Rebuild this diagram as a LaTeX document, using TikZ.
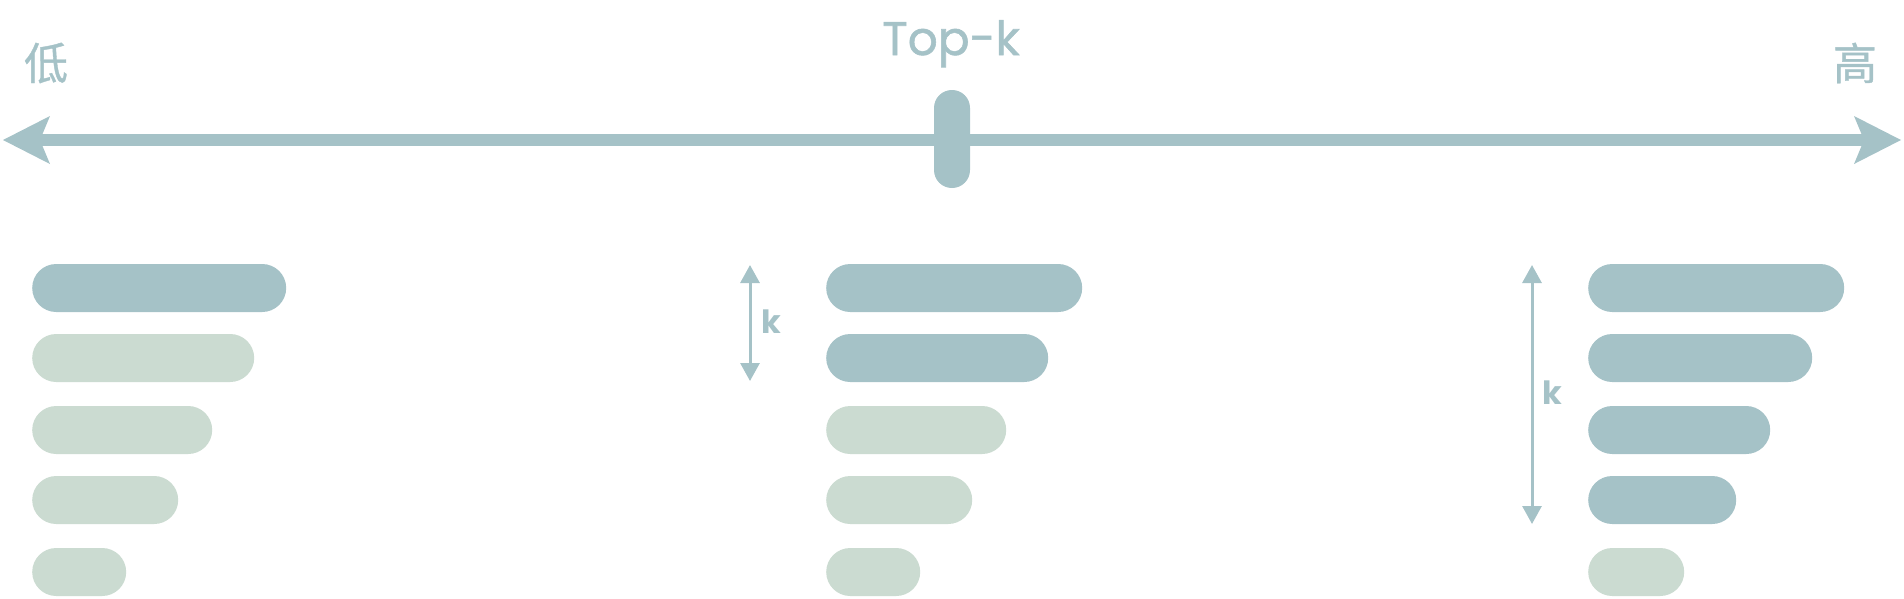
\documentclass[tikz,border=0pt]{standalone}
\usepackage{fontspec}
\setmainfont{Poppins}
\newfontfamily\cjk[FakeBold=0.8]{Noto Sans CJK SC}
\newfontfamily\tkfont[FakeBold=1.2]{Poppins}
\usetikzlibrary{arrows.meta,shapes.misc}
\definecolor{mblue}{RGB}{165,194,199}
\definecolor{mgreen}{RGB}{203,219,209}
\tikzset{
  bar/.style={draw=none, rounded rectangle, rounded rectangle arc length=180, minimum height=48pt, inner sep=0pt, anchor=west},
  hi/.style={bar, fill=mblue},
  lo/.style={bar, fill=mgreen},
  axis/.style={draw=mblue, line width=12pt},
  head/.style={fill=mblue, draw=none},
  karrow/.style={draw=mblue, line width=3pt, {Triangle[length=18pt,width=19pt]}-{Triangle[length=18pt,width=19pt]}},
  lbl/.style={text=mblue, inner sep=0pt},
}
\begin{document}
\begin{tikzpicture}[x=1pt,y=-1pt]
\useasboundingbox (0,0) rectangle (1904,598);
% axis
\coordinate (aL) at (3,140);
\coordinate (aR) at (1901,140);
\draw[axis] ([xshift=36pt]aL) -- ([xshift=-36pt]aR);
\fill[head] (aL) -- ++(47,-24) -- ++(-10,24) -- ++(10,24) -- cycle;
\fill[head] (aR) -- ++(-47,-24) -- ++(10,24) -- ++(-10,24) -- cycle;
\fill[mblue, rounded corners=17.9pt] (934,90) rectangle (970,188);
\coordinate (knob) at (952,139);
\node[lbl, font=\cjk\fontsize{44}{44}\selectfont] (low) at (46,63) {低};
\node[lbl, font=\cjk\fontsize{44}{44}\selectfont] (high) at (1855,63) {高};
\node[lbl, font=\tkfont\fontsize{47}{47}\selectfont, anchor=base] (topk) at (951,55) {Top-k};
% left column
\node[hi, minimum width=254pt] (l1) at (32,288) {};
\node[lo, minimum width=222pt] (l2) at (32,358) {};
\node[lo, minimum width=180pt] (l3) at (32,430) {};
\node[lo, minimum width=146pt] (l4) at (32,500) {};
\node[lo, minimum width=94pt]  (l5) at (32,572) {};
% middle column
\node[hi, minimum width=256pt] (m1) at (826,288) {};
\node[hi, minimum width=222pt] (m2) at (826,358) {};
\node[lo, minimum width=180pt] (m3) at (826,430) {};
\node[lo, minimum width=146pt] (m4) at (826,500) {};
\node[lo, minimum width=94pt]  (m5) at (826,572) {};
% right column
\node[hi, minimum width=256pt] (r1) at (1588,288) {};
\node[hi, minimum width=224pt] (r2) at (1588,358) {};
\node[hi, minimum width=182pt] (r3) at (1588,430) {};
\node[hi, minimum width=148pt] (r4) at (1588,500) {};
\node[lo, minimum width=96pt]  (r5) at (1588,572) {};
% k arrows
\coordinate (mkT) at (750,265);
\coordinate (mkB) at (750,381);
\draw[karrow] (mkT) -- (mkB);
\node[lbl, font=\bfseries\fontsize{32}{32}\selectfont, anchor=base] (mk) at (771,333) {k};
\coordinate (rkT) at (1532,265);
\coordinate (rkB) at (1532,524);
\draw[karrow] (rkT) -- (rkB);
\node[lbl, font=\bfseries\fontsize{32}{32}\selectfont, anchor=base] (rk) at (1552,404) {k};
\end{tikzpicture}
\end{document}
